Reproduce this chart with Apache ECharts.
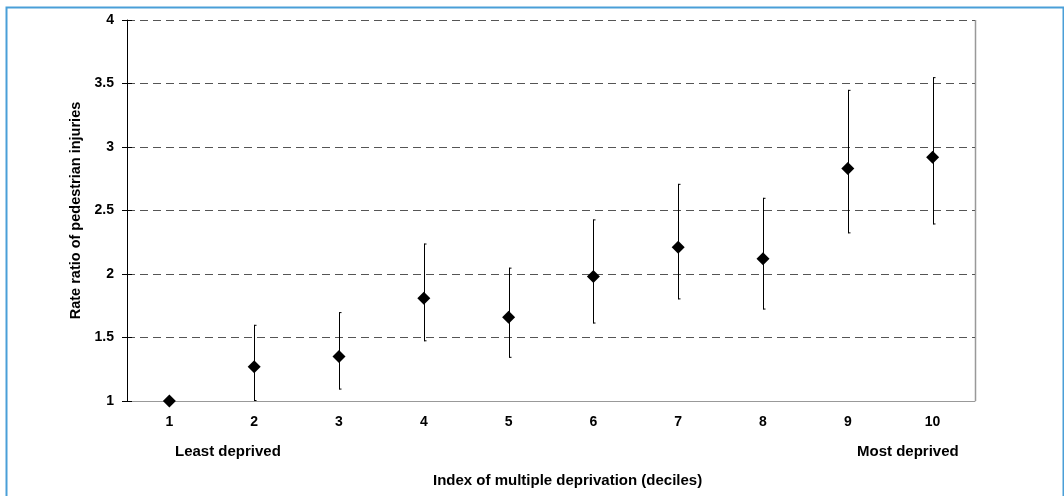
<!DOCTYPE html>
<html>
<head>
<meta charset="utf-8">
<script src="https://cdn.jsdelivr.net/npm/echarts@6/dist/echarts.min.js"></script>
<style>
html,body{margin:0;padding:0;background:#fff;}
#c{width:1064px;height:496px;}
</style>
</head>
<body>
<div id="c"></div>
<script>
const categories = ['1','2','3','4','5','6','7','8','9','10'];
const rateRatio = [1.00, 1.27, 1.35, 1.81, 1.66, 1.98, 2.21, 2.12, 2.83, 2.92];
const lowerCI   = [null, 1.00, 1.09, 1.47, 1.34, 1.61, 1.80, 1.72, 2.32, 2.39];
const upperCI   = [null, 1.60, 1.70, 2.24, 2.05, 2.43, 2.71, 2.60, 3.45, 3.55];
const yTicks = [1, 1.5, 2, 2.5, 3, 3.5, 4];

const errData = categories.map((c, i) => [i, lowerCI[i], upperCI[i]]).filter(d => d[1] != null);

const chart = echarts.init(document.getElementById('c'), null, {renderer: 'canvas'});
const font = '"Liberation Sans", Arial, sans-serif';
chart.setOption({
  animation: false,
  backgroundColor: '#fff',
  grid: {left: 127, right: 89, top: 20, bottom: 95},
  xAxis: {
    type: 'category',
    data: categories,
    boundaryGap: true,
    axisLine: {show: true, lineStyle: {color: '#999', width: 1}},
    axisTick: {show: false},
    axisLabel: {color: '#000', fontWeight: 'bold', fontSize: 14, fontFamily: font, margin: 14},
    splitLine: {show: false}
  },
  yAxis: [{
    type: 'value',
    min: 1, max: 4, interval: 0.5,
    axisLine: {show: true, onZero: false, lineStyle: {color: '#000', width: 1}},
    axisTick: {show: true, inside: false, length: 5, lineStyle: {color: '#000'}},
    axisLabel: {color: '#000', fontWeight: 'bold', fontSize: 14, fontFamily: font, margin: 13,
      formatter: v => yTicks.includes(v) ? String(v) : ''},
    splitLine: {show: true, lineStyle: {color: '#555', type: [8, 5], width: 1}},
    name: 'Rate ratio of pedestrian injuries',
    nameLocation: 'middle',
    nameGap: 43,
    nameRotate: 90,
    nameTextStyle: {color: '#000', fontWeight: 'bold', fontSize: 14.5, fontFamily: font}
  }, {
    type: 'value',
    position: 'left',
    min: 1, max: 4, interval: 0.5,
    axisLine: {show: false},
    axisTick: {show: true, inside: true, length: 5, lineStyle: {color: '#000'}},
    axisLabel: {show: false},
    splitLine: {show: false}
  }],
  graphic: [
    {type: 'rect', left: 4, top: 5, shape: {width: 1057, height: 496}, style: {fill: 'none', stroke: '#4a9fd8', lineWidth: 2}, silent: true},
    {type: 'line', shape: {x1: 975.5, y1: 20, x2: 975.5, y2: 401}, style: {stroke: '#999', lineWidth: 1.5}},
    {type: 'text', left: 175, top: 444, style: {text: 'Least deprived', font: 'bold 15px ' + font, fill: '#000'}},
    {type: 'text', left: 857, top: 444, style: {text: 'Most deprived', font: 'bold 15px ' + font, fill: '#000'}},
    {type: 'text', left: 433, top: 473, style: {text: 'Index of multiple deprivation (deciles)', font: 'bold 15px ' + font, fill: '#000'}}
  ],
  series: [{
    type: 'custom',
    data: errData,
    z: 2,
    renderItem: function (params, api) {
      const x = api.coord([api.value(0), api.value(1)])[0];
      const yl = api.coord([api.value(0), api.value(1)])[1];
      const yh = api.coord([api.value(0), api.value(2)])[1];
      const st = {stroke: '#000', lineWidth: 1};
      const xr = Math.round(x) + 0.5;
      return {
        type: 'group',
        children: [
          {type: 'line', shape: {x1: xr, y1: yh, x2: xr, y2: yl}, style: st},
          {type: 'line', shape: {x1: xr, y1: yh + 0.5, x2: xr + 2, y2: yh + 0.5}, style: st},
          {type: 'line', shape: {x1: xr, y1: yl - 0.5, x2: xr + 2, y2: yl - 0.5}, style: st}
        ]
      };
    }
  }, {
    type: 'scatter',
    data: rateRatio,
    symbol: 'diamond',
    symbolSize: [13, 13],
    z: 3,
    itemStyle: {color: '#000', opacity: 1}
  }]
});
</script>
</body>
</html>
